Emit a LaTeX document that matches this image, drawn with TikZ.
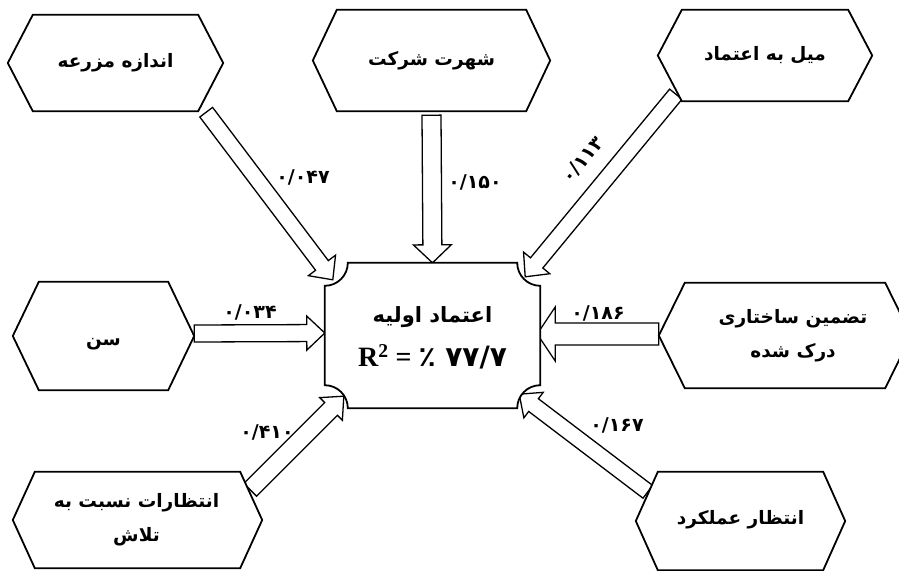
\documentclass[tikz,border=0pt]{standalone}
\usepackage{fontspec}
\setmainfont{Liberation Serif}
\newfontfamily\fa[Script=Arabic]{DejaVu Sans}
\TeXXeTstate=1
\usetikzlibrary{calc}
\tikzset{
  hexline/.style={draw=black, fill=white, line width=1.8pt, line join=miter},
  hexbox/.style={inner sep=0pt, align=center, font=\fa\bfseries\fontsize{18.5}{34}\selectfont},
  barrow/.style={draw=black, line width=1.3pt, fill=white, line join=miter},
  coef/.style={inner sep=0pt, font=\fa\bfseries\fontsize{19}{22}\selectfont},
  boxline/.style={draw=black, fill=white, line width=1.8pt},
}
\newcommand\hexa[2]{%
  \draw[hexline] ([xshift=#2]#1.north west) -- ([xshift=-#2]#1.north east) -- (#1.east)
    -- ([xshift=-#2]#1.south east) -- ([xshift=#2]#1.south west) -- (#1.west) -- cycle;}
% #1 start, #2 tip, #3 shaft half width, #4 head half width, #5 head length
\newcommand\blockarr[5]{%
  \coordinate (hb) at ($(#2)!#5!(#1)$);
  \draw[barrow] ($(#1)!#3!90:(#2)$) -- ($(hb)!#3!90:(#2)$) -- ($(hb)!#4!90:(#2)$) -- (#2)
    -- ($(hb)!#4!-90:(#2)$) -- ($(hb)!#3!-90:(#2)$) -- ($(#1)!#3!-90:(#2)$) -- cycle;}
\begin{document}
\begin{tikzpicture}[x=1pt,y=-1pt]
\useasboundingbox (0,0) rectangle (899,570);
\clip (0,0) rectangle (899,570);
% nodes
\node[hexbox, minimum width=215pt, minimum height=96pt] (h1) at (115.5,63) {};
\node[hexbox, minimum width=237pt, minimum height=101pt] (h2) at (431.5,60.5) {};
\node[hexbox, minimum width=214pt, minimum height=91pt] (h3) at (765,55.5) {};
\node[hexbox, minimum width=181pt, minimum height=108pt] (h4) at (103.5,336) {};
\node[hexbox, minimum width=252pt, minimum height=105pt] (h5) at (785,335.5) {};
\node[hexbox, minimum width=249pt, minimum height=96pt] (h6) at (137.5,520) {};
\node[hexbox, minimum width=209pt, minimum height=98pt] (h7) at (740.5,521) {};
\node[inner sep=0pt, minimum width=215pt, minimum height=145pt] (c) at (432.5,335.5) {};
% arrow ends
\coordinate (s1) at ([xshift=-17pt,yshift=-1pt]h1.south east);
\coordinate (t1) at ([xshift=8pt,yshift=-17pt]c.north west);
\coordinate (s2) at ([yshift=-4pt]h2.south);
\coordinate (t2) at (c.north);
\coordinate (s3) at ([xshift=18pt,yshift=7pt]h3.south west);
\coordinate (t3) at ([xshift=-15pt,yshift=-14pt]c.north east);
\coordinate (s4) at ([yshift=2.5pt]h4.east);
\coordinate (t4) at ([yshift=2.5pt]c.west);
\coordinate (s5) at ([yshift=1.5pt]h5.west);
\coordinate (t5) at ([xshift=-3pt,yshift=1.5pt]c.east);
\coordinate (s6) at ([xshift=-12pt,yshift=-18pt]h6.north east);
\coordinate (t6) at ([xshift=19pt,yshift=12pt]c.south west);
\coordinate (s7) at ([xshift=12pt,yshift=-20pt]h7.north west);
\coordinate (t7) at ([xshift=-21pt,yshift=14pt]c.south east);
% arrows
\blockarr{s1}{t1}{8pt}{17pt}{18pt}
\blockarr{s2}{t2}{9.5pt}{19pt}{18pt}
\blockarr{s3}{t3}{8pt}{17pt}{18pt}
\blockarr{s4}{t4}{8.5pt}{17pt}{18pt}
\blockarr{s5}{t5}{11pt}{27pt}{18pt}
\blockarr{s6}{t6}{9pt}{16pt}{18pt}
\blockarr{s7}{t7}{8pt}{16pt}{18pt}
% hexagons
\hexa{h1}{25pt}
\hexa{h2}{24pt}
\hexa{h3}{24pt}
\hexa{h4}{26pt}
\hexa{h5}{26pt}
\hexa{h6}{22pt}
\hexa{h7}{22pt}
% central box with concave corners
\draw[boxline] ([xshift=23pt]c.north west) -- ([xshift=-23pt]c.north east)
  arc[start angle=180,end angle=270,radius=23pt] -- ([yshift=23pt]c.south east)
  arc[start angle=90,end angle=180,radius=23pt] -- ([xshift=23pt]c.south west)
  arc[start angle=0,end angle=90,radius=23pt] -- ([yshift=-23pt]c.north west)
  arc[start angle=270,end angle=360,radius=23pt] -- cycle;
% texts
\node[hexbox] (h1t) at (h1) {\beginR اندازه مزرعه\endR};
\node[hexbox] (h2t) at (h2) {\beginR شهرت شرکت\endR};
\node[hexbox] (h3t) at (h3) {\beginR میل به اعتماد\endR};
\node[hexbox] (h4t) at ([yshift=-8pt]h4) {\beginR سن\endR};
\node[hexbox] (h5t) at ([xshift=8pt]h5) {\beginR تضمین ساختاری\endR\\\beginR درک شده\endR};
\node[hexbox] (h6t) at ([xshift=-1pt]h6) {\beginR انتظارات نسبت به\endR\\\beginR تلاش\endR};
\node[hexbox] (h7t) at ([yshift=1pt]h7) {\beginR انتظار عملکرد\endR};
\node[inner sep=0pt, font=\fa\bfseries\fontsize{21}{24}\selectfont] (ct1) at (432.5,317) {\beginR اعتماد اولیه\endR};
\node[inner sep=0pt, font=\bfseries\fontsize{28}{32}\selectfont] (ct2) at (432.5,357) {R\textsuperscript{2} = {\fa\beginR\beginL ۷۷/۷\endL{} ٪\endR}};
% coefficients
\node[coef] (l1) at (303,177) {۰/۰۴۷};
\node[coef] (l2) at (475,182) {۰/۱۵۰};
\node[coef, rotate=50] (l3) at (583,160) {۰/۱۱۳};
\node[coef] (l4) at (250,312) {۰/۰۳۴};
\node[coef] (l5) at (598,313) {۰/۱۸۶};
\node[coef] (l6) at (267,432) {۰/۴۱۰};
\node[coef] (l7) at (617,425) {۰/۱۶۷};
\end{tikzpicture}
\end{document}
